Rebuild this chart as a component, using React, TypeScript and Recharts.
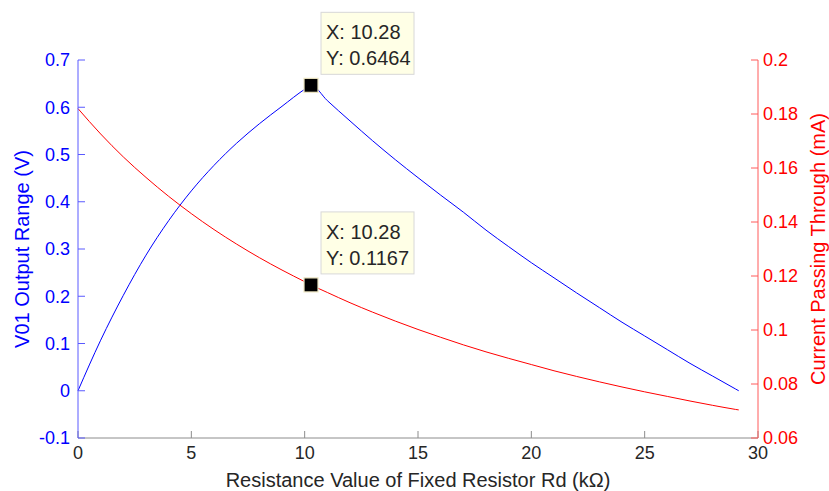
import { ComposedChart, Line, Scatter, XAxis, YAxis } from 'recharts'

// ── Data ──────────────────────────────────────────────────────────────────────

const RD_KOHM = [
  0, 1, 2, 3, 4, 5, 6, 7, 8, 9, 10, 10.28, 11, 12, 13, 14, 15,
  16, 17, 18, 19, 20, 21, 22, 23, 24, 25, 26, 27, 28, 29, 29.15,
]

const V01_OUTPUT = [
  0, 0.107, 0.202, 0.287, 0.360, 0.423, 0.477, 0.524, 0.565, 0.602, 0.638, 0.6464,
  0.614, 0.571, 0.529, 0.489, 0.451, 0.414, 0.378, 0.340, 0.305, 0.271, 0.239,
  0.207, 0.176, 0.145, 0.116, 0.087, 0.058, 0.031, 0.004, 0,
]

const CURRENT_MA = [
  0.1820, 0.1726, 0.1641, 0.1565, 0.1495, 0.1431, 0.1372, 0.1318, 0.1268, 0.1222,
  0.1179, 0.1167, 0.1139, 0.1101, 0.1066, 0.1033, 0.1002, 0.0973, 0.0945, 0.0919,
  0.0895, 0.0872, 0.0849, 0.0828, 0.0808, 0.0789, 0.0771, 0.0754, 0.0737, 0.0721,
  0.0706, 0.0704,
]

const X_TICKS = [0, 5, 10, 15, 20, 25, 30]
const LEFT_TICKS = [-0.1, 0, 0.1, 0.2, 0.3, 0.4, 0.5, 0.6, 0.7]
const RIGHT_TICKS = [0.06, 0.08, 0.1, 0.12, 0.14, 0.16, 0.18, 0.2]

const TIP_V01 = [{ x: 10.28, y: 0.6464, label: '0.6464' }]
const TIP_CURRENT = [{ x: 10.28, y: 0.1167, label: '0.1167' }]

const rows = RD_KOHM.map((x, i) => ({ x, v01: V01_OUTPUT[i], current: CURRENT_MA[i] }))

// ── Colors ────────────────────────────────────────────────────────────────────

const BLUE = '#0000ff'
const RED = '#ff0000'
const DARK = '#262626'

// ── Data tip (MATLAB style) ───────────────────────────────────────────────────

function DataTip(props: any) {
  const { cx, cy, payload } = props
  if (cx == null || cy == null) return null
  return (
    <g>
      <rect x={cx - 7} y={cy - 7} width={14} height={14} fill="#000" stroke="#efe8c4" strokeWidth={1.2} />
      <rect x={cx + 10} y={cy - 73} width={93} height={62} fill="#ffffe6" stroke="#d8d8d8" strokeWidth={1} />
      <text x={cx + 15} y={cy - 46} fontSize={20} fill={DARK}>X: {payload.x}</text>
      <text x={cx + 15} y={cy - 20} fontSize={20} fill={DARK}>Y: {payload.label}</text>
    </g>
  )
}

// ── Main ──────────────────────────────────────────────────────────────────────

export default function App() {
  return (
    <div style={{ position: 'absolute', left: 0, top: 0, fontFamily: '"Liberation Sans", Arial, sans-serif' }}>
      <ComposedChart
        width={829}
        height={491}
        data={rows}
        margin={{ top: 60, right: 0, bottom: 0, left: 0 }}
      >
        <XAxis
          dataKey="x"
          type="number"
          domain={[0, 30]}
          ticks={X_TICKS}
          height={53}
          stroke="#8c8c8c"
          tickSize={-7}
          tickMargin={15}
          tick={{ fill: DARK, fontSize: 18 }}
          label={{
            value: 'Resistance Value of Fixed Resistor Rd (kΩ)',
            position: 'insideBottom',
            offset: 4,
            fill: DARK,
            fontSize: 20,
          }}
        />
        <YAxis
          yAxisId="left"
          orientation="left"
          type="number"
          domain={[-0.1, 0.7]}
          ticks={LEFT_TICKS}
          width={78}
          stroke="#5a5aff"
          tickSize={-7}
          tickMargin={15}
          tick={{ fill: BLUE, fontSize: 18 }}
          tickFormatter={(v: number) => String(v)}
          label={{
            value: 'V01 Output Range (V)',
            angle: -90,
            position: 'insideLeft',
            offset: 22,
            fill: BLUE,
            fontSize: 20,
            style: { textAnchor: 'middle' },
          }}
        />
        <YAxis
          yAxisId="right"
          orientation="right"
          type="number"
          domain={[0.06, 0.2]}
          ticks={RIGHT_TICKS}
          width={71}
          stroke="#ff5a5a"
          tickSize={-7}
          tickMargin={12}
          tick={{ fill: RED, fontSize: 18 }}
          tickFormatter={(v: number) => String(v)}
          label={{
            value: 'Current Passing Through (mA)',
            angle: -90,
            position: 'insideRight',
            offset: 11,
            fill: RED,
            fontSize: 20,
            style: { textAnchor: 'middle' },
          }}
        />

        <Line
          yAxisId="left"
          dataKey="v01"
          type="monotone"
          stroke={BLUE}
          strokeWidth={1}
          dot={false}
          isAnimationActive={false}
        />
        <Line
          yAxisId="right"
          dataKey="current"
          type="monotone"
          stroke={RED}
          strokeWidth={1}
          dot={false}
          isAnimationActive={false}
        />

        <Scatter yAxisId="left" data={TIP_V01} dataKey="y" shape={DataTip} isAnimationActive={false} />
        <Scatter yAxisId="right" data={TIP_CURRENT} dataKey="y" shape={DataTip} isAnimationActive={false} />
      </ComposedChart>
    </div>
  )
}
